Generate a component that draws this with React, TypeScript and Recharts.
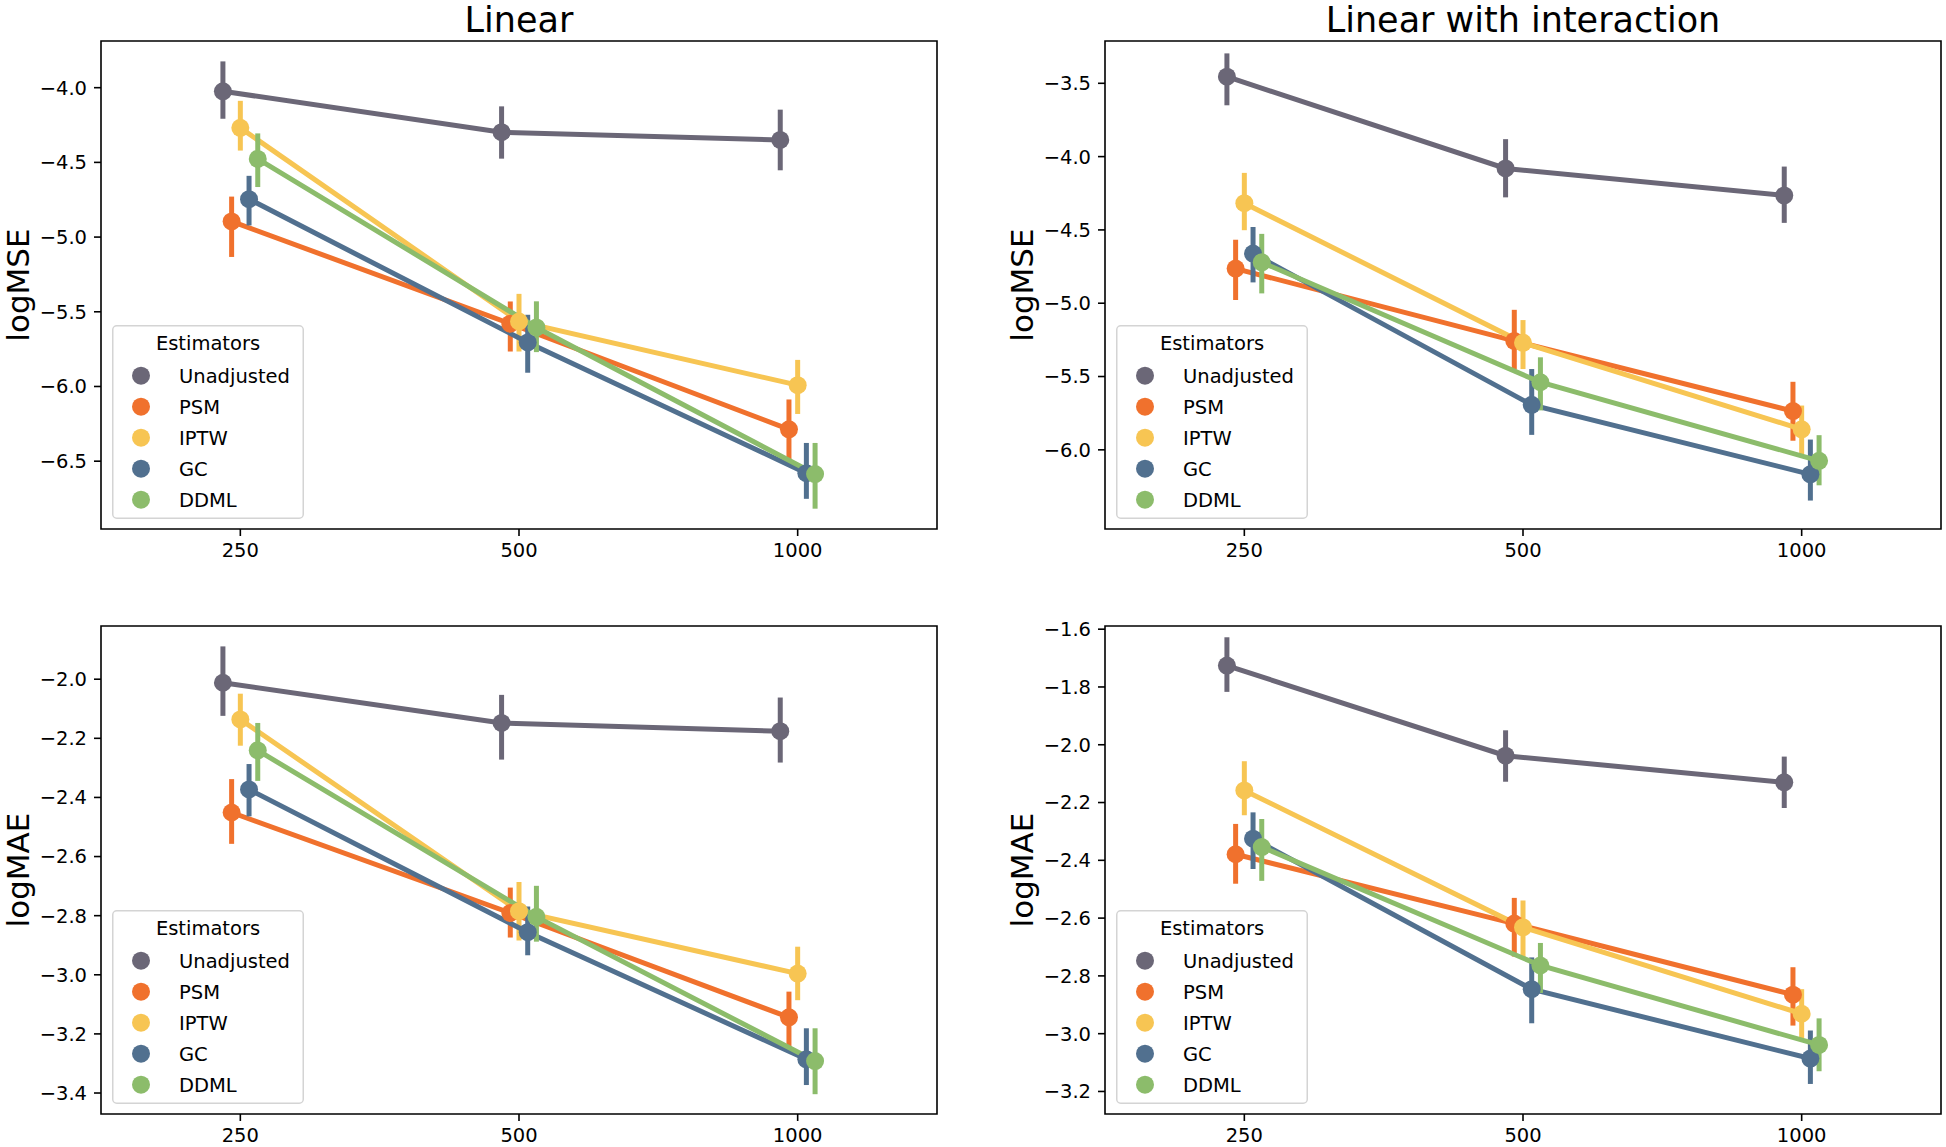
import React from "react";
import {
  LineChart,
  Line,
  XAxis,
  YAxis,
  ErrorBar,
  Legend,
  ReferenceArea,
} from "recharts";

const sampleSizes = ["250", "500", "1000"];
const estimators = ["Unadjusted", "PSM", "IPTW", "GC", "DDML"];
const colors = ["#6b6777", "#f0712d", "#f7c553", "#51708f", "#8cbc6b"];

// rows follow `estimators`, columns follow `sampleSizes`
const linMseMean = [
  [-4.024, -4.298, -4.35],
  [-4.895, -5.58, -6.287],
  [-4.269, -5.565, -5.991],
  [-4.746, -5.705, -6.58],
  [-4.477, -5.605, -6.586],
];
const linMseLow = [
  [-4.208, -4.475, -4.553],
  [-5.133, -5.766, -6.507],
  [-4.421, -5.766, -6.184],
  [-4.922, -5.908, -6.752],
  [-4.665, -5.77, -6.818],
];
const linMseHigh = [
  [-3.824, -4.125, -4.147],
  [-4.729, -5.431, -6.087],
  [-4.088, -5.38, -5.822],
  [-4.59, -5.52, -6.378],
  [-4.306, -5.43, -6.378],
];

const intMseMean = [
  [-3.455, -4.081, -4.265],
  [-4.764, -5.257, -5.736],
  [-4.318, -5.27, -5.86],
  [-4.661, -5.693, -6.167],
  [-4.721, -5.539, -6.075],
];
const intMseLow = [
  [-3.65, -4.278, -4.452],
  [-4.978, -5.452, -5.938],
  [-4.502, -5.449, -6.03],
  [-4.858, -5.898, -6.346],
  [-4.933, -5.731, -6.242],
];
const intMseHigh = [
  [-3.296, -3.881, -4.068],
  [-4.567, -5.045, -5.536],
  [-4.111, -5.115, -5.698],
  [-4.48, -5.449, -5.93],
  [-4.527, -5.369, -5.9],
];

const linMaeMean = [
  [-2.012, -2.148, -2.176],
  [-2.451, -2.791, -3.144],
  [-2.136, -2.785, -2.996],
  [-2.373, -2.856, -3.286],
  [-2.241, -2.804, -3.292],
];
const linMaeLow = [
  [-2.124, -2.272, -2.282],
  [-2.557, -2.874, -3.249],
  [-2.225, -2.884, -3.086],
  [-2.464, -2.934, -3.373],
  [-2.344, -2.888, -3.404],
];
const linMaeHigh = [
  [-1.889, -2.053, -2.062],
  [-2.338, -2.705, -3.057],
  [-2.049, -2.686, -2.905],
  [-2.287, -2.769, -3.181],
  [-2.148, -2.699, -3.181],
];

const intMaeMean = [
  [-1.726, -2.038, -2.13],
  [-2.379, -2.619, -2.865],
  [-2.158, -2.632, -2.931],
  [-2.325, -2.846, -3.086],
  [-2.354, -2.764, -3.039],
];
const intMaeLow = [
  [-1.817, -2.128, -2.219],
  [-2.481, -2.733, -2.972],
  [-2.244, -2.739, -3.017],
  [-2.43, -2.964, -3.174],
  [-2.471, -2.859, -3.13],
];
const intMaeHigh = [
  [-1.628, -1.95, -2.041],
  [-2.274, -2.53, -2.77],
  [-2.057, -2.539, -2.846],
  [-2.234, -2.736, -2.989],
  [-2.257, -2.686, -2.947],
];

const linMseTicks = [-6.5, -6.0, -5.5, -5.0, -4.5, -4.0];
const intMseTicks = [-6.0, -5.5, -5.0, -4.5, -4.0, -3.5];
const linMaeTicks = [-3.4, -3.2, -3.0, -2.8, -2.6, -2.4, -2.2, -2.0];
const intMaeTicks = [-3.2, -3.0, -2.8, -2.6, -2.4, -2.2, -2.0, -1.8, -1.6];

const FONT = "DejaVu Sans";
const PLOT_W = 836;
const PLOT_H = 488;
const Y_AXIS_W = 101;
const TOP_PAD = 41;
const X_AXIS_H = 60;
const CHART_W = Y_AXIS_W + PLOT_W + 8;
const CHART_H = TOP_PAD + PLOT_H + X_AXIS_H;

// seaborn-style dodge: hues spread over 0.125 of a category
const DODGE = 0.125;
const dodgeOffset = (s: number) => -DODGE / 2 + (s * DODGE) / (estimators.length - 1);

const fmt = (v: number) => v.toFixed(1).replace("-", "\u2212");

function buildSeries(mean: number[][], low: number[][], high: number[][]) {
  return estimators.map((name, s) => ({
    name,
    color: colors[s],
    points: sampleSizes.map((_, i) => ({
      x: i + dodgeOffset(s),
      y: mean[s][i],
      err: [mean[s][i] - low[s][i], high[s][i] - mean[s][i]],
    })),
  }));
}

function LegendBox({ payload }: { payload?: any[] }) {
  const items = (payload && payload.length ? [...payload] : estimators.map((n, i) => ({ value: n, color: colors[i] })))
    .sort((a: any, b: any) => estimators.indexOf(a.value) - estimators.indexOf(b.value));
  return (
    <svg width={192} height={194} style={{ display: "block" }}>
      <rect x={0.75} y={0.75} width={190.5} height={192.5} rx={4} fill="#fff" fillOpacity={0.8} stroke="#d4d4d4" strokeWidth={1.5} />
      <text x={96} y={25} textAnchor="middle" fontSize={19.5} fontFamily={FONT} fill="#000">
        Estimators
      </text>
      {items.map((p: any, i: number) => (
        <g key={p.value}>
          <circle cx={29} cy={50.7 + i * 31} r={9} fill={p.color} />
          <text x={67} y={50.7 + i * 31 + 7} fontSize={19.5} fontFamily={FONT} fill="#000">
            {p.value}
          </text>
        </g>
      ))}
    </svg>
  );
}

const yLabel = (text: string) => (props: any) => {
  const vb = props.viewBox || {};
  const cx = (vb.x ?? 0) + (vb.width ?? Y_AXIS_W) - 84 + 12;
  const cy = (vb.y ?? TOP_PAD) + (vb.height ?? PLOT_H) / 2;
  return (
    <text x={cx} y={cy} transform={`rotate(-90, ${cx}, ${cy})`} textAnchor="middle" fontSize={31} fontFamily={FONT} fill="#000">
      {text}
    </text>
  );
};

function Panel({
  left,
  top,
  title,
  ylabel,
  mean,
  low,
  high,
  ticks,
  domain,
}: {
  left: number;
  top: number;
  title?: string;
  ylabel: string;
  mean: number[][];
  low: number[][];
  high: number[][];
  ticks: number[];
  domain: [number, number];
}) {
  const series = buildSeries(mean, low, high);
  const tickStyle = { fill: "#000", fontSize: 19.5, fontFamily: FONT };
  return (
    <div style={{ position: "absolute", left, top, width: CHART_W, height: CHART_H }}>
      {title && (
        <div
          style={{
            position: "absolute",
            left: Y_AXIS_W,
            top: 0,
            width: PLOT_W,
            textAlign: "center",
            fontSize: 35,
            lineHeight: "normal",
            fontFamily: FONT,
            color: "#000",
            whiteSpace: "nowrap",
          }}
        >
          {title}
        </div>
      )}
      <LineChart width={CHART_W} height={CHART_H} margin={{ top: TOP_PAD, right: 8, left: 0, bottom: 0 }}>
        <XAxis
          type="number"
          dataKey="x"
          domain={[-0.5, 2.5]}
          ticks={[0, 1, 2]}
          interval={0}
          allowDataOverflow
          tickFormatter={(v: number) => sampleSizes[Math.round(v)]}
          height={X_AXIS_H}
          axisLine={false}
          tickSize={7}
          tickMargin={7}
          tickLine={{ stroke: "#000", strokeWidth: 1.6 }}
          tick={tickStyle}
        />
        <YAxis
          type="number"
          dataKey="y"
          domain={domain}
          ticks={ticks}
          interval={0}
          allowDataOverflow
          tickFormatter={fmt}
          width={Y_AXIS_W}
          axisLine={false}
          tickSize={7}
          tickMargin={7}
          tickLine={{ stroke: "#000", strokeWidth: 1.6 }}
          tick={tickStyle}
          label={yLabel(ylabel)}
        />
        <ReferenceArea
          x1={-0.5}
          x2={2.5}
          y1={domain[0]}
          y2={domain[1]}
          fill="none"
          fillOpacity={0}
          stroke="#000"
          strokeWidth={1.6}
          ifOverflow="visible"
        />
        {series.map((s) => (
          <Line
            key={s.name}
            name={s.name}
            data={s.points}
            dataKey="y"
            type="linear"
            stroke={s.color}
            strokeWidth={5}
            dot={{ r: 9, fill: s.color, stroke: s.color, strokeWidth: 0 }}
            activeDot={false}
            isAnimationActive={false}
          >
            <ErrorBar dataKey="err" direction="y" width={0} stroke={s.color} strokeWidth={5} isAnimationActive={false} />
          </Line>
        ))}
        <Legend
          layout="vertical"
          align="center"
          verticalAlign="middle"
          content={(props: any) => <LegendBox payload={props.payload} />}
          wrapperStyle={{ left: 112, top: 325, width: 192, height: 194 }}
        />
      </LineChart>
    </div>
  );
}

export default function App() {
  return (
    <div
      style={{
        position: "absolute",
        left: 0,
        top: 0,
        width: 1946,
        height: 1147,
        overflow: "hidden",
        background: "#fff",
        fontFamily: FONT,
      }}
    >
      <Panel left={0} top={0} title="Linear" ylabel="logMSE" mean={linMseMean} low={linMseLow} high={linMseHigh} ticks={linMseTicks} domain={[-6.954, -3.6875]} />
      <Panel left={1004} top={0} title="Linear with interaction" ylabel="logMSE" mean={intMseMean} low={intMseLow} high={intMseHigh} ticks={intMseTicks} domain={[-6.54, -3.2115]} />
      <Panel left={0} top={585} ylabel="logMAE" mean={linMaeMean} low={linMaeLow} high={linMaeHigh} ticks={linMaeTicks} domain={[-3.471, -1.82]} />
      <Panel left={1004} top={585} ylabel="logMAE" mean={intMaeMean} low={intMaeLow} high={intMaeHigh} ticks={intMaeTicks} domain={[-3.278, -1.589]} />
    </div>
  );
}
